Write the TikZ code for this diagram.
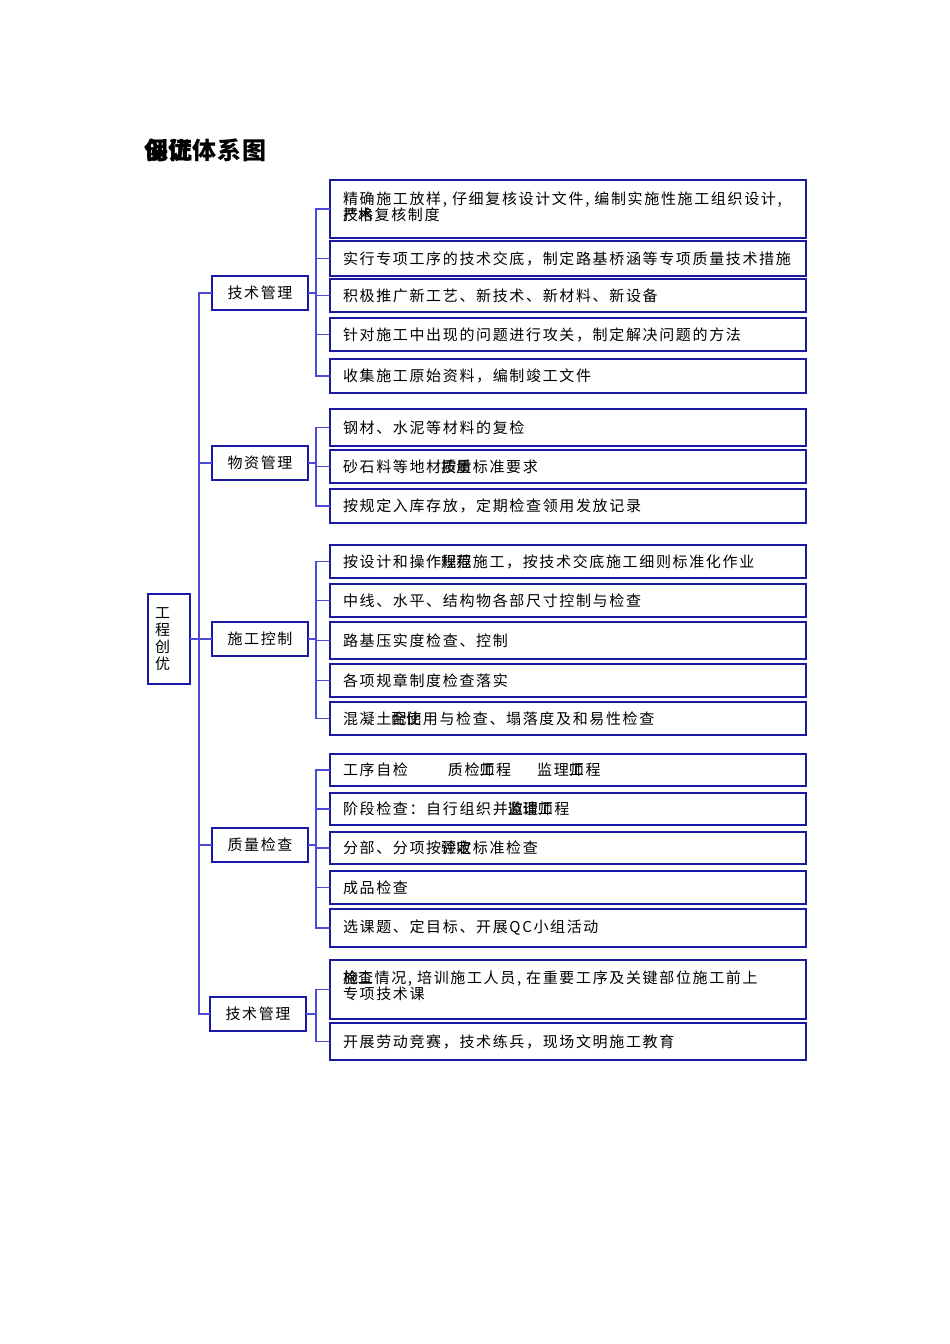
\documentclass[tikz,border=0pt]{standalone}
\usepackage{fontspec}
\setmainfont{Noto Sans CJK SC}[LetterSpace=11]
\newfontfamily\titlefont{Noto Sans CJK SC}[LetterSpace=4]
\newcommand\twochar[2]{\makebox[0pt][l]{#1}#2}
\definecolor{boxblue}{RGB}{25,25,165}
\definecolor{linkblue}{RGB}{75,75,215}
\begin{document}
\begin{tikzpicture}[x=1pt,y=-1pt,inner sep=0pt,outer sep=0pt,
catbox/.style={draw=boxblue,line width=1.6pt,minimum width=96pt,minimum height=34pt,anchor=west,font=\fontsize{15}{17}\selectfont},
leafbox/.style={draw=boxblue,line width=1.6pt,anchor=west,text width=450pt,inner xsep=13pt,align=left,minimum height=33pt,font=\fontsize{15}{16.5}\selectfont},
link/.style={draw=linkblue,line width=1.4pt}]

\useasboundingbox (0,0) rectangle (950,1344);
\draw (144,150) node[anchor=west,font=\titlefont\bfseries\fontsize{24}{24}\selectfont] (title) {\twochar{保}{创}\twochar{证}{优}体系图};

\draw (148,639) node[draw=boxblue,line width=1.6pt,anchor=west,minimum width=42pt,minimum height=90pt,text width=28pt,align=left,font=\fontsize{15}{17}\selectfont] (root) {工\\程\\创\\优};

\draw (212,293) node[catbox] (tech) {技术管理};
\draw (212,463) node[catbox] (supply) {物资管理};
\draw (212,639) node[catbox] (constr) {施工控制};
\draw (212,845) node[catbox] (quality) {质量检查};
\draw (210,1014) node[catbox] (techb) {技术管理};

\draw (330,209) node[leafbox,minimum height=58pt,text depth=22pt] (t1) {精确施工放样, 仔细复核设计文件, 编制实施性施工组织设计,\\\twochar{严}{技}\twochar{格}{术}复核制度};
\draw (330,258.5) node[leafbox,minimum height=35pt] (t2) {实行专项工序的技术交底，制定路基桥涵等专项质量技术措施};
\draw (330,295.5) node[leafbox] (t3) {积极推广新工艺、新技术、新材料、新设备};
\draw (330,334.5) node[leafbox] (t4) {针对施工中出现的问题进行攻关，制定解决问题的方法};
\draw (330,376) node[leafbox,minimum height=34pt] (t5) {收集施工原始资料，编制竣工文件};

\draw (330,427.5) node[leafbox,minimum height=37pt] (s1) {钢材、水泥等材料的复检};
\draw (330,466.5) node[leafbox] (s2) {砂石料等地材\twochar{按}{质}\twochar{质}{量}标准要求};
\draw (330,506) node[leafbox,minimum height=34pt] (s3) {按规定入库存放，定期检查领用发放记录};

\draw (330,561.5) node[leafbox] (c1) {按设计和操作\twochar{规}{程}\twochar{程}{范}施工，按技术交底施工细则标准化作业};
\draw (330,600.5) node[leafbox] (c2) {中线、水平、结构物各部尺寸控制与检查};
\draw (330,640.5) node[leafbox,minimum height=37pt] (c3) {路基压实度检查、控制};
\draw (330,680.5) node[leafbox] (c4) {各项规章制度检查落实};
\draw (330,718.5) node[leafbox] (c5) {混凝土\twochar{配}{合}\twochar{比}{使}用与检查、塌落度及和易性检查};

\draw (330,770) node[leafbox,minimum height=32pt] (q1) {工序自检\hspace{40pt}质检\twochar{工}{师}程\hspace{26pt}监理\twochar{工}{师}程};
\draw (330,809) node[leafbox,minimum height=32pt] (q2) {阶段检查：自行组织并\twochar{邀}{监}\twochar{请}{理}\twochar{工}{师}程};
\draw (330,848) node[leafbox,minimum height=32pt] (q3) {分部、分项按\twochar{验}{评}\twochar{收}{定}标准检查};
\draw (330,887.5) node[leafbox] (q4) {成品检查};
\draw (330,928) node[leafbox,minimum height=38pt] (q5) {选课题、定目标、开展QC小组活动};

\draw (330,989.5) node[leafbox,minimum height=59pt,text depth=25pt] (u1) {\twochar{施}{检}\twochar{工}{查}情况, 培训施工人员, 在重要工序及关键部位施工前上\\专项技术课};
\draw (330,1041.5) node[leafbox,minimum height=37pt] (u2) {开展劳动竞赛，技术练兵，现场文明施工教育};

\draw[link] (root.east) -- (constr.west);
\draw[link] (tech.west) -- ++(-13,0) |- (techb.west);
\draw[link] (supply.west) -- ++(-13,0);
\draw[link] (quality.west) -- ++(-13,0);

\draw[link] (tech.east) -- ++(8,0);
\draw[link] (t1.west) -- ++(-14,0) |- (t5.west);
\draw[link] (t2.west) -- ++(-14,0);
\draw[link] (t3.west) -- ++(-14,0);
\draw[link] (t4.west) -- ++(-14,0);

\draw[link] (supply.east) -- ++(8,0);
\draw[link] (s1.west) -- ++(-14,0) |- (s3.west);
\draw[link] (s2.west) -- ++(-14,0);

\draw[link] (constr.east) -- ++(8,0);
\draw[link] (c1.west) -- ++(-14,0) |- (c5.west);
\draw[link] (c2.west) -- ++(-14,0);
\draw[link] (c3.west) -- ++(-14,0);
\draw[link] (c4.west) -- ++(-14,0);

\draw[link] (quality.east) -- ++(8,0);
\draw[link] (q1.west) -- ++(-14,0) |- (q5.west);
\draw[link] (q2.west) -- ++(-14,0);
\draw[link] (q3.west) -- ++(-14,0);
\draw[link] (q4.west) -- ++(-14,0);

\draw[link] (techb.east) -- ++(10,0);
\draw[link] (u1.west) -- ++(-14,0) |- (u2.west);
\end{tikzpicture}
\end{document}
